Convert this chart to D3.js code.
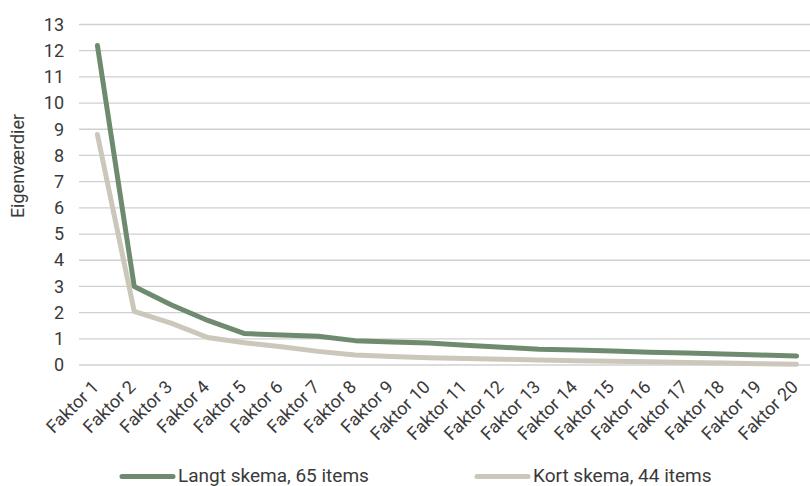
<!DOCTYPE html>
<html>
    <head>
        <script src="https://d3js.org/d3.v7.min.js"></script>
        <style>
            body { margin: 0; background: #fff; }
            text { font-family: "Roboto", "Liberation Sans", sans-serif; fill: #3a3a3a; }
        </style>
    </head>
    <body>
        <svg height="486" width="810" id="chart"></svg>
        <script>
            // data
            const factors=d3.range(1, 21).map(i => "Faktor " + i);
            const langt=[12.2, 3.0, 2.3, 1.7, 1.2, 1.15, 1.1, 0.93, 0.88, 0.84, 0.75, 0.68, 0.6, 0.57, 0.53, 0.49, 0.46, 0.42, 0.38, 0.34];
            const kort=[8.8, 2.05, 1.6, 1.05, 0.85, 0.7, 0.52, 0.38, 0.32, 0.28, 0.25, 0.22, 0.19, 0.16, 0.14, 0.12, 0.1, 0.08, 0.05, 0.03];
            const yTicks=d3.range(0, 14);
            const seriesNames=["Langt skema, 65 items", "Kort skema, 44 items"];
            const colors=["#6f8b6f", "#cbc7ba"];

            let svg=d3.select("#chart");
            let plotLeft=79, plotRight=815, plotTop=24.5, plotBottom=365;

            let x=d3.scaleBand().domain(factors).range([plotLeft, plotRight]);
            let y=d3.scaleLinear().domain([0, 13]).range([plotBottom, plotTop]);
            let cx=d => x(d) + x.bandwidth() / 2;

            // gridlines
            svg.append("g")
                .selectAll("line")
                .data(yTicks)
                .join("line")
                .attr("x1", plotLeft)
                .attr("x2", plotRight)
                .attr("y1", d => y(d))
                .attr("y2", d => y(d))
                .style("stroke", "#d0d0d0")
                .style("stroke-width", 1.3)

            // y tick labels
            let yAxis=svg.append("g")
                .attr("transform", `translate(${plotLeft - 15},0)`)
                .call(d3.axisLeft(y).tickValues(yTicks).tickSize(0).tickPadding(0))
            yAxis.select(".domain").remove();
            yAxis.attr("font-size", null).attr("font-family", null);
            yAxis.selectAll("text")
                .style("font-size", "18px")
                .style("fill", "#3a3a3a")

            // x tick labels, rotated 45 degrees
            svg.append("g")
                .selectAll("text")
                .data(factors)
                .join("text")
                .attr("text-anchor", "end")
                .attr("transform", d => `translate(${cx(d) + 2.5},388) rotate(-45)`)
                .style("font-size", "18px")
                .text(d => d)

            // y title
            svg.append("text")
                .attr("transform", "translate(24,166) rotate(-90)")
                .attr("text-anchor", "middle")
                .style("font-size", "18px")
                .text("Eigenværdier")

            let line=d3.line()
                .x((d, i) => cx(factors[i]))
                .y(d => y(d));

            // kort first so the green line sits on top
            [kort, langt].forEach(s => {
                let k=s === langt ? 0 : 1;
                svg.append("path")
                    .datum(s)
                    .attr("d", line)
                    .style("fill", "none")
                    .style("stroke", colors[k])
                    .style("stroke-width", 5)
                    .style("stroke-linecap", "round")
                    .style("stroke-linejoin", "round")
            })

            // legend
            let legendX=[122, 477];
            seriesNames.forEach((name, k) => {
                let g=svg.append("g").attr("transform", `translate(${legendX[k]},476.5)`);
                g.append("line")
                    .attr("x1", 0).attr("x2", 51)
                    .style("stroke", colors[k])
                    .style("stroke-width", 5)
                    .style("stroke-linecap", "round")
                g.append("text")
                    .attr("x", 56)
                    .attr("y", 5.5)
                    .style("font-size", "19px")
                    .text(name)
            })
        </script>
    </body>
</html>
